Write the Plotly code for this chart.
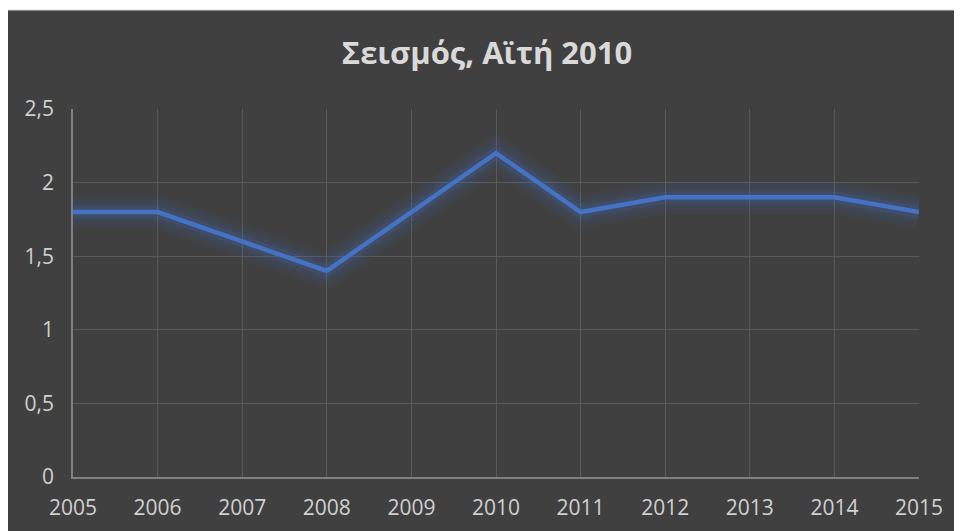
import plotly.graph_objects as go

years = [2005, 2006, 2007, 2008, 2009, 2010, 2011, 2012, 2013, 2014, 2015]
values = [1.8, 1.8, 1.6, 1.4, 1.8, 2.2, 1.8, 1.9, 1.9, 1.9, 1.8]
y_ticks = [0, 0.5, 1, 1.5, 2, 2.5]
title_text = "Σεισμός, Αϊτή 2010"

# page body has an 8px margin; figure is sized/positioned to compensate
OFF = 8
W, H = 962 - OFF, 531 - OFF
ml, mt = 73 - OFF, 109 - OFF
plot_right, plot_bottom = 919 - OFF, 477 - OFF
mr, mb = W - plot_right, H - plot_bottom
pw, ph = W - ml - mr, H - mt - mb

def px2x(px):
    return (px - ml) / pw

def py2y(py):
    return (H - mb - py) / ph

fig = go.Figure()

# glow layers
for w, a in [(34, 0.05), (26, 0.07), (18, 0.09), (12, 0.12)]:
    fig.add_trace(go.Scatter(x=years, y=values, mode="lines",
                             line=dict(color=f"rgba(68,114,196,{a})", width=w),
                             hoverinfo="skip", showlegend=False))
fig.add_trace(go.Scatter(x=years, y=values, mode="lines",
                         line=dict(color="#4472C4", width=4.5),
                         showlegend=False))

fig.add_shape(type="rect", xref="paper", yref="paper", layer="below",
              x0=px2x(-2), x1=px2x(W + 5), y0=py2y(H + 5), y1=py2y(2),
              fillcolor="#404040", line=dict(color="#d9d9d9", width=1))

fig.update_layout(
    width=W, height=H,
    margin=dict(l=ml, r=mr, t=mt, b=mb, autoexpand=False),
    paper_bgcolor="white",
    plot_bgcolor="rgba(0,0,0,0)",
    separators=",.",
    title=dict(text=title_text, x=(487 - OFF) / W, xanchor="center",
               y=1 - (53 - OFF) / H, yanchor="middle",
               font=dict(family="Open Sans", size=31, color="#d9d9d9", weight="bold")),
    xaxis=dict(range=[2005, 2015], tickmode="array", tickvals=years,
               ticktext=[str(y) for y in years], automargin=False,
               showgrid=True, gridcolor="#595959", gridwidth=1.2,
               showline=True, linecolor="#808080", linewidth=1.5, zeroline=False,
               ticks="outside", ticklen=11, tickcolor="rgba(0,0,0,0)",
               tickfont=dict(family="Open Sans", size=21, color="#d0d0d0")),
    yaxis=dict(range=[0, 2.5], tickmode="array", tickvals=y_ticks, automargin=False,
               showgrid=True, gridcolor="#595959", gridwidth=1.2,
               showline=True, linecolor="#808080", linewidth=1.5, zeroline=False,
               ticks="outside", ticklen=13, tickcolor="rgba(0,0,0,0)",
               tickfont=dict(family="Open Sans", size=21, color="#d0d0d0")),
)

fig.write_html("out.html")
